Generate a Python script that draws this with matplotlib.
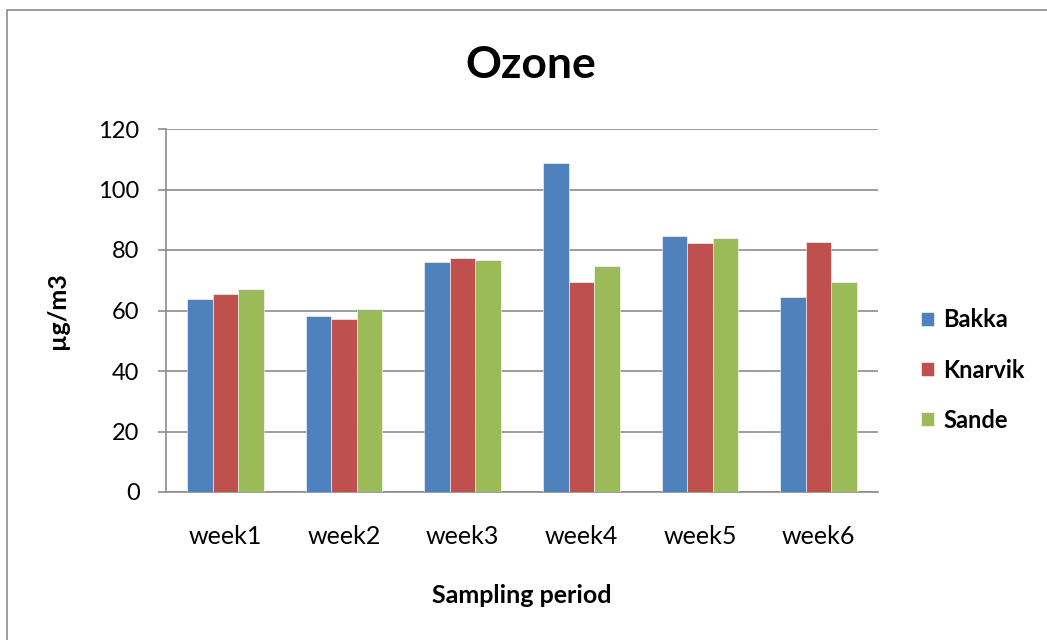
import numpy as np
import matplotlib.pyplot as plt
from matplotlib.patches import Rectangle

weeks = ["week1", "week2", "week3", "week4", "week5", "week6"]
bakka = [63.8, 58.2, 76.1, 108.8, 84.5, 64.3]
knarvik = [65.5, 57.2, 77.4, 69.4, 82.3, 82.8]
sande = [67.1, 60.4, 76.7, 74.6, 84.0, 69.4]

plt.rcParams['font.family'] = ['Lato', 'DejaVu Sans']

fig = plt.figure(figsize=(10.47, 6.4), dpi=100)
ax = fig.add_axes([166 / 1047, 1 - 492 / 640, 712 / 1047, 363 / 640])

# outer chart border
fig.patches.append(Rectangle((7 / 1047, -0.1), 1.2, 1 - 10 / 640 + 0.1,
                             transform=fig.transFigure, fill=False,
                             edgecolor="#8c8c8c", linewidth=1.2))

x = np.arange(len(weeks))
w = 0.215
series = [("Bakka", bakka, "#4F81BD"), ("Knarvik", knarvik, "#C0504D"),
          ("Sande", sande, "#9BBB59")]
for i, (name, vals, col) in enumerate(series):
    ax.bar(x + (i - 1) * w, vals, w, color=col, label=name,
           edgecolor="white", linewidth=0.4, zorder=3)

ax.set_xlim(-0.5, len(weeks) - 0.5)
ax.set_ylim(0, 120)
ax.set_yticks(range(0, 121, 20))
ax.set_xticks(x)
ax.set_xticklabels(weeks)
ax.yaxis.grid(True, color="#8c8c8c", linewidth=1.2, zorder=0)
ax.tick_params(axis="x", length=0, labelsize=18, pad=24)
ax.tick_params(axis="y", length=6, width=1.2, color="#8c8c8c", labelsize=17, pad=13)
for s in ["top", "right"]:
    ax.spines[s].set_visible(False)
for s in ["left", "bottom"]:
    ax.spines[s].set_color("#8c8c8c")
    ax.spines[s].set_linewidth(1.2)

ax.set_xlabel("Sampling period", fontsize=18, fontweight="bold", labelpad=26)
ax.set_ylabel("µg/m3", fontsize=18, fontweight="bold", labelpad=21)
fig.text(531 / 1047, 1 - 65 / 640, "Ozone", fontsize=32, fontweight="bold",
         ha="center", va="center")

fig.legend(loc="center left", bbox_to_anchor=(921 / 1047, 1 - 370 / 640),
           frameon=False, handlelength=0.55, handleheight=0.55,
           labelspacing=1.15, handletextpad=0.4, borderpad=0, borderaxespad=0,
           prop={"size": 17, "weight": "bold"})

fig.savefig("out.png", dpi=100)
